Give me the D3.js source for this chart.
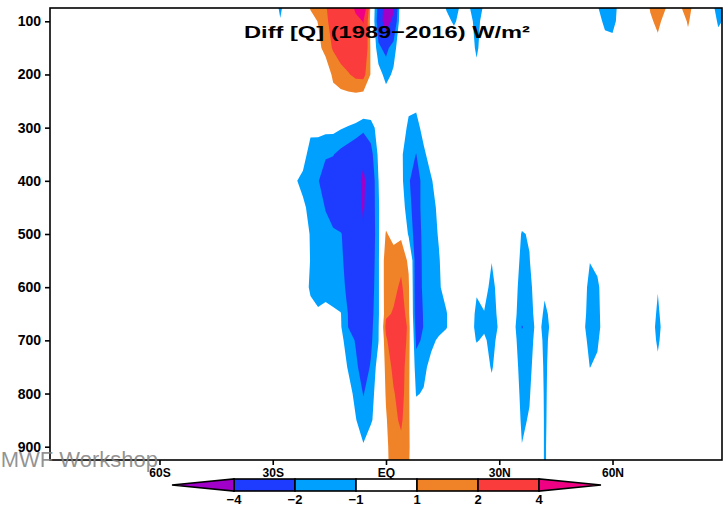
<!DOCTYPE html>
<html>
<head>
<meta charset="utf-8">
<script src="https://cdn.jsdelivr.net/npm/d3@7"></script>
<style>
  body { margin: 0; background: #fff; }
  text { font-family: "Liberation Sans", Arial, sans-serif; }
</style>
</head>
<body>
<div id="chart"></div>
<script>
// grid of the field: latitude columns and pressure rows
var lats = [-32, -30, -28, -26, -24, -22, -20, -18, -16, -14, -12, -10, -8, -6, -4, -2, 0, 2, 4, 6, 8,
  10, 12, 14, 16, 18, 20, 22, 24, 26, 28, 30, 32, 34, 36, 38, 40, 42, 44, 46, 48, 50, 52, 54, 56, 58,
  60, 62, 64, 66, 68, 70, 72, 74, 76, 78, 80, 82, 84, 86, 88];
var levels = [75, 100, 150, 200, 250, 300, 350, 400, 450, 500, 550, 600, 650, 675, 700, 750, 800, 850, 900, 925];

// Q difference (W/m2), [lat, value] per level; unlisted points are 0
var q75 = [[-28,-1.3],[-20,1.1],[-18,1.5],[-16,1.9],[-14,2.5],[-12,2.9],[-10,3.2],[-8,4.3],[-6,6],[-4,0.5],[-2,-2.5],[0,-5],[2,-4.3],
  [16,-1.1],[18,-1.6],[20,-0.7],[22,-0.9],[24,-1.7],[26,-0.8],[56,-0.9],[58,-1.6],[60,-1.5],[62,-0.6],
  [70,1.1],[72,1.6],[74,1.05],[78,0.9],[80,1.5],[82,0.4],[86,-0.6],[88,-1.4]];
var q100 = [[-28,-0.9],[-20,0.5],[-18,1.05],[-16,1.85],[-14,2.3],[-12,2.7],[-10,3.1],[-8,3.6],[-6,4.05],[-4,0.5],[-2,-2.8],[0,-5],[2,-3.5],
  [16,-0.6],[18,-1.2],[20,-0.5],[22,-0.5],[24,-1.5],[26,-0.4],[56,-0.5],[58,-1.3],[60,-1.4],[62,-0.5],
  [70,0.8],[72,1.3],[74,0.6],[80,1.2],[88,-1.2]];
var q150 = [[-18,0.6],[-16,1.5],[-14,2.1],[-12,2.6],[-10,3.0],[-8,3.3],[-6,3.5],[-4,0.8],[-2,-1.8],[0,-2.3],[2,-1.5],
  [24,-1.3],[58,-0.4],[60,-0.5],[72,0.6],[80,0.3],[88,-0.3]];
var q200 = [[-14,1.3],[-12,1.6],[-10,1.9],[-8,2.3],[-6,2.4],[-4,0.9],[-2,-0.5],[0,-1.4],[2,-0.8],[24,-0.5]];
var q250 = [[-14,0.3],[-12,0.5],[-10,0.5],[-8,0.4],[-6,0.2],[0,-0.3],[6,-0.6],[8,-0.7]];
var q300 = [[-20,-0.7],[-18,-0.6],[-16,-0.7],[-14,-0.7],[-12,-0.9],[-10,-1.1],[-8,-1.3],[-6,-1.6],[-4,-1.4],[-2,-0.6],
  [4,-0.2],[6,-1.3],[8,-1.4],[10,-0.6]];
var q350 = [[-22,-0.5],[-20,-1.5],[-18,-1.7],[-16,-1.9],[-14,-1.95],[-12,-2.3],[-10,-2.6],[-8,-3.0],[-6,-3.7],[-4,-2.4],[-2,-0.8],
  [4,-0.8],[6,-1.7],[8,-2.02],[10,-1.2],[12,-0.5]];
var q400 = [[-24,-0.9],[-22,-1.3],[-20,-1.6],[-18,-1.95],[-16,-2.4],[-14,-2.6],[-12,-2.8],[-10,-3.0],[-8,-3.4],[-6,-4.3],[-4,-3.0],[-2,-1.02],
  [4,-0.7],[6,-1.9],[8,-2.5],[10,-1.6],[12,-1.1],[14,-0.4]];
var q450 = [[-24,-0.3],[-22,-0.8],[-20,-1.3],[-18,-1.6],[-16,-2.05],[-14,-2.5],[-12,-2.7],[-10,-3.0],[-8,-3.3],[-6,-4.15],[-4,-3.0],[-2,-1.1],
  [4,-0.3],[6,-1.7],[8,-2.5],[10,-1.6],[12,-1.3],[14,-0.8],[36,-0.2]];
var q500 = [[-22,-0.3],[-20,-1.1],[-18,-1.5],[-16,-1.7],[-14,-1.85],[-12,-1.95],[-10,-2.3],[-8,-2.8],[-6,-3.9],[-4,-3.0],[-2,-1.2],
  [0,1.15],[2,0.5],[4,0.8],[6,-1.2],[8,-2.6],[10,-1.7],[12,-1.5],[14,-0.9],[34,-0.2],[36,-1.1],[38,-0.9]];
var q550 = [[-22,-0.2],[-20,-1.05],[-18,-1.4],[-16,-1.6],[-14,-1.75],[-12,-1.9],[-10,-2.2],[-8,-2.7],[-6,-3.3],[-4,-2.8],[-2,-1.2],
  [0,1.9],[2,1.7],[4,1.7],[6,0.8],[8,-2.8],[10,-1.7],[12,-1.5],[14,-1.1],[16,-0.3],[28,-0.97],
  [34,-0.4],[36,-1.3],[38,-1.05],[40,-0.2],[54,-0.97],[56,-0.7]];
var q600 = [[-22,-0.35],[-20,-1.2],[-18,-1.3],[-16,-1.5],[-14,-1.6],[-12,-1.8],[-10,-2.15],[-8,-2.6],[-6,-3.0],[-4,-2.6],[-2,-1.2],
  [0,1.9],[2,1.7],[4,2.2],[6,1.2],[8,-2.9],[10,-1.7],[12,-1.5],[14,-1.2],[16,-0.4],
  [24,-0.85],[26,-0.6],[28,-1.3],[30,-0.6],[34,-0.6],[36,-1.5],[38,-1.3],[40,-0.4],[42,-0.85],[44,-0.5],
  [52,-0.5],[54,-1.3],[56,-1.2],[58,-0.4],[72,-0.95]];
var q650 = [[-20,-0.6],[-18,-0.9],[-16,-0.6],[-14,-0.8],[-12,-0.95],[-10,-2.05],[-8,-2.5],[-6,-2.7],[-4,-2.4],[-2,-1.2],
  [0,1.8],[2,2.1],[4,2.8],[6,1.3],[8,-2.8],[10,-1.9],[12,-1.6],[14,-1.4],[16,-1.1],
  [22,-0.3],[24,-1.25],[26,-1.05],[28,-1.5],[30,-0.7],[34,-0.7],[36,-1.7],[38,-1.5],[40,-0.5],[42,-1.15],[44,-0.8],
  [52,-0.6],[54,-1.4],[56,-1.25],[58,-0.5],[70,-0.5],[72,-1.15],[74,-0.5]];
var q675 = [[-12,-0.9],[-10,-2.02],[-8,-2.6],[-6,-2.7],[-4,-2.3],[-2,-1.1],
  [0,2.3],[2,3.0],[4,3.3],[6,1.6],[8,-2.6],[10,-1.95],[12,-1.6],[14,-1.4],[16,-1.1],
  [22,-0.4],[24,-1.3],[26,-1.2],[28,-1.7],[30,-0.8],[34,-0.8],[36,-2.05],[38,-1.7],[40,-0.6],[42,-1.3],[44,-0.8],
  [52,-0.7],[54,-1.5],[56,-1.3],[58,-0.5],[70,-0.5],[72,-1.3],[74,-0.5]];
var q700 = [[-12,-0.7],[-10,-1.5],[-8,-2.1],[-6,-2.6],[-4,-2.2],[-2,-1.05],
  [0,1.8],[2,2.9],[4,3.1],[6,1.5],[8,-2.2],[10,-1.85],[12,-1.3],[14,-0.8],[16,-0.3],
  [22,-0.2],[24,-1.1],[26,-0.8],[28,-1.4],[30,-0.6],[34,-0.7],[36,-1.7],[38,-1.5],[40,-0.5],[42,-1.2],[44,-0.75],
  [52,-0.5],[54,-1.35],[56,-1.15],[58,-0.3],[70,-0.5],[72,-1.15],[74,-0.5]];
var q750 = [[-12,-0.4],[-10,-1.1],[-8,-1.8],[-6,-2.5],[-4,-1.9],[-2,-0.5],
  [0,1.3],[2,2.3],[4,2.6],[6,1.3],[8,-1.6],[10,-1.3],[12,-0.6],
  [26,-0.3],[28,-1.15],[30,-0.2],[34,-0.5],[36,-1.5],[38,-1.3],[40,-0.3],[42,-1.15],[44,-0.7],
  [52,-0.2],[54,-1.02],[56,-0.8],[72,-0.8]];
var q800 = [[-10,-0.6],[-8,-1.3],[-6,-2.05],[-4,-1.5],[-2,-0.3],[0,1.1],[2,1.9],[4,2.5],[6,1.2],[8,-1.1],[10,-0.9],
  [28,-0.5],[34,-0.3],[36,-1.35],[38,-1.1],[40,-0.1],[42,-1.12],[44,-0.7],[54,-0.4]];
var q850 = [[-10,-0.3],[-8,-0.95],[-6,-1.6],[-4,-1.2],[-2,-0.2],[0,0.9],[2,1.7],[4,2.2],[6,1.15],[8,-0.3],
  [34,-0.1],[36,-1.2],[38,-0.9],[42,-1.1],[44,-0.7]];
var q900 = [[-6,-0.9],[0,0.75],[2,1.6],[4,1.7],[6,1.15],[36,-0.97],[38,-0.5],[42,-1.1],[44,-0.6]];
var q925 = [[0,0.7],[2,1.6],[4,1.6],[6,1.1],[36,-0.5],[42,-1.1],[44,-0.6]];
var qRows = [q75, q100, q150, q200, q250, q300, q350, q400, q450, q500, q550, q600, q650, q675, q700, q750, q800, q850, q900, q925];

// axis ticks and colour key
var pTicks = [100, 200, 300, 400, 500, 600, 700, 800, 900];
var latTicks = [-60, -30, 0, 30, 60];
var latLabels = ["60S", "30S", "EQ", "30N", "60N"];
var cbBounds = [-4, -2, -1, 1, 2, 4];
var cbLabels = ["\u22124", "\u22122", "\u22121", "1", "2", "4"];
var cbColors = ["rgb(160,0,200)", "rgb(30,60,255)", "rgb(0,160,255)", "#ffffff",
                "rgb(240,130,40)", "rgb(250,60,60)", "rgb(240,0,130)"];

var width = 724, height = 507;
var plotL = 50, plotR = 722, plotT = 8, plotB = 460;

var svg = d3.select("#chart").append("svg")
    .attr("width", width)
    .attr("height", height)
    .style("display", "block")
    .style("background", "#fff");

var x = d3.scaleLinear().domain([-89, 89]).range([plotL, plotR]);
var y = d3.scaleLinear().domain([75, 925]).range([plotT, plotB]);

// build the grid from the rows
var nx = lats.length, ny = levels.length;
var grid = new Array(nx * ny).fill(0);
qRows.forEach(function(row, j) {
  row.forEach(function(d) { grid[j * nx + lats.indexOf(d[0])] = d[1]; });
});
var negGrid = grid.map(function(v) { return -v; });

var latAt = d3.scaleLinear().domain(d3.range(nx)).range(lats);
var levAt = d3.scaleLinear().domain(d3.range(ny)).range(levels);

function ringPath(ring) {
  return "M" + ring.map(function(p) {
    return x(latAt(p[0] - 0.5)).toFixed(2) + "," + y(levAt(p[1] - 0.5)).toFixed(2);
  }).join("L") + "Z";
}
function contourPath(c) {
  return c.coordinates.map(function(poly) { return poly.map(ringPath).join(""); }).join("");
}

svg.append("clipPath").attr("id", "plotclip")
  .append("rect")
    .attr("x", plotL).attr("y", plotT)
    .attr("width", plotR - plotL).attr("height", plotB - plotT);

var field = svg.append("g").attr("clip-path", "url(#plotclip)");
var contours = d3.contours().size([nx, ny]);

// positive bands: >=1 orange, >=2 red, >=4 magenta
[[1, 4], [2, 5], [4, 6]].forEach(function(b) {
  field.append("path")
    .attr("d", contourPath(contours.contour(grid, b[0])))
    .attr("fill", cbColors[b[1]])
    .attr("fill-rule", "evenodd");
});
// negative bands: <=-1 light blue, <=-2 blue, <=-4 purple
[[1, 2], [2, 1], [4, 0]].forEach(function(b) {
  field.append("path")
    .attr("d", contourPath(contours.contour(negGrid, b[0])))
    .attr("fill", cbColors[b[1]])
    .attr("fill-rule", "evenodd");
});

// frame
svg.append("rect")
    .attr("x", plotL).attr("y", plotT)
    .attr("width", plotR - plotL).attr("height", plotB - plotT)
    .attr("fill", "none")
    .attr("stroke", "#000")
    .attr("stroke-width", 1.6);

var yAxis = svg.append("g")
    .attr("transform", "translate(" + plotL + ",0)")
    .call(d3.axisLeft(y).tickValues(pTicks).tickSize(5).tickPadding(4));
yAxis.select(".domain").remove();
yAxis.selectAll("line").attr("stroke-width", 1.6);
yAxis.selectAll("text")
    .attr("font-size", 14).attr("font-weight", "bold")
    .attr("font-family", "Liberation Sans, Arial, sans-serif").attr("fill", "#000");

var xAxis = svg.append("g")
    .attr("transform", "translate(0," + plotB + ")")
    .call(d3.axisBottom(x).tickValues(latTicks).tickSize(5).tickPadding(3)
      .tickFormat(function(d, i) { return latLabels[i]; }));
xAxis.select(".domain").remove();
xAxis.selectAll("line").attr("stroke-width", 1.6);
xAxis.selectAll("text")
    .attr("font-size", 12).attr("font-weight", "bold")
    .attr("font-family", "Liberation Sans, Arial, sans-serif").attr("fill", "#000");

// title
svg.append("text")
    .attr("x", 387).attr("y", 38)
    .attr("text-anchor", "middle")
    .attr("font-size", 17)
    .attr("font-weight", "bold")
    .attr("textLength", 286)
    .attr("lengthAdjust", "spacingAndGlyphs")
    .text("Diff [Q] (1989\u22122016) W/m\u00b2");

// colour key
var cbX = d3.scaleLinear().domain([0, cbBounds.length - 1]).range([234, 539]);
var cbTop = 479, cbH = 12, tip = 62;
var key = svg.append("g");
d3.range(cbBounds.length - 1).forEach(function(i) {
  key.append("rect")
    .attr("x", cbX(i)).attr("y", cbTop)
    .attr("width", cbX(i + 1) - cbX(i)).attr("height", cbH)
    .attr("fill", cbColors[i + 1])
    .attr("stroke", "#000").attr("stroke-width", 1.6);
});
var x0 = cbX(0), x1 = cbX(cbBounds.length - 1);
key.append("path")
    .attr("d", "M" + (x0 - tip) + "," + (cbTop + cbH / 2) + "L" + x0 + "," + cbTop + "L" + x0 + "," + (cbTop + cbH) + "Z")
    .attr("fill", cbColors[0]).attr("stroke", "#000").attr("stroke-width", 1.6);
key.append("path")
    .attr("d", "M" + (x1 + tip) + "," + (cbTop + cbH / 2) + "L" + x1 + "," + cbTop + "L" + x1 + "," + (cbTop + cbH) + "Z")
    .attr("fill", cbColors[cbColors.length - 1]).attr("stroke", "#000").attr("stroke-width", 1.6);
key.selectAll(".cblab")
    .data(cbBounds)
  .enter().append("text")
    .attr("class", "cblab")
    .attr("x", function(d, i) { return cbX(i); })
    .attr("y", 504)
    .attr("text-anchor", "middle")
    .attr("font-size", 13)
    .attr("font-weight", "bold")
    .text(function(d, i) { return cbLabels[i]; });

// watermark, cut off at the left edge
svg.append("text")
    .attr("x", 158).attr("y", 467)
    .attr("text-anchor", "end")
    .attr("font-size", 22)
    .attr("fill", "#7f7f7f")
    .attr("fill-opacity", 0.85)
    .text("ECMWF Workshop");
</script>
</body>
</html>
